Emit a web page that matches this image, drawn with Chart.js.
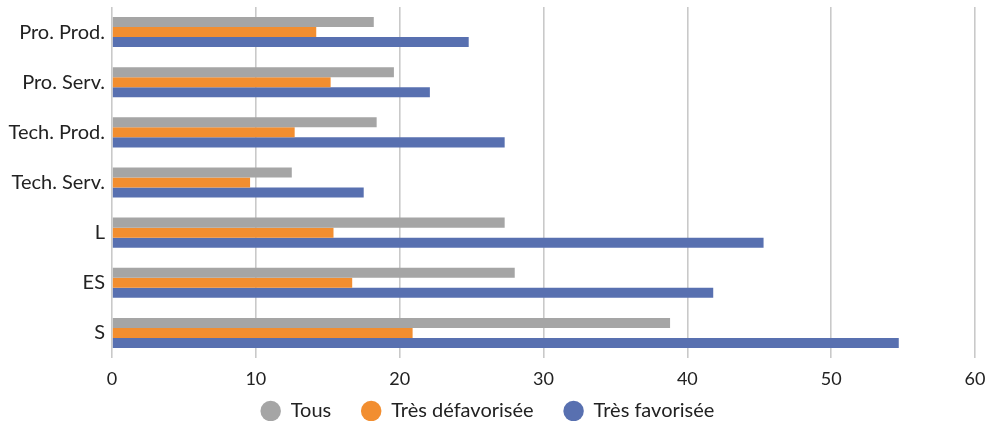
<!DOCTYPE html>
<html>
<head>
<meta charset="utf-8">
<script src="https://cdn.jsdelivr.net/npm/chart.js@4.4.0/dist/chart.umd.min.js"></script>
<style>
  html, body { margin: 0; padding: 0; background: #fff; }
  #wrap { width: 995px; height: 421px; position: relative; }
</style>
</head>
<body>
<div id="wrap"><canvas id="chart"></canvas></div>
<script>
// categories and values
var categories = ['Pro. Prod.', 'Pro. Serv.', 'Tech. Prod.', 'Tech. Serv.', 'L', 'ES', 'S'];
var tous = [18.2, 19.6, 18.4, 12.5, 27.3, 28.0, 38.8];
var tresDefavorisee = [14.2, 15.2, 12.7, 9.6, 15.4, 16.7, 20.9];
var tresFavorisee = [24.8, 22.1, 27.3, 17.5, 45.3, 41.8, 54.7];
var seriesNames = ['Tous', 'Très défavorisée', 'Très favorisée'];
var xTicks = [0, 10, 20, 30, 40, 50, 60];

var colors = ['#A5A5A5', '#F28E30', '#5870B0'];
var seriesData = [tous, tresDefavorisee, tresFavorisee];

var datasets = [];
for (var i = 0; i < seriesData.length; i++) {
    datasets.push({
        label: seriesNames[i],
        data: seriesData[i],
        backgroundColor: colors[i],
        borderWidth: 0,
        categoryPercentage: 0.6,
        barPercentage: 1.0
    });
}

Chart.defaults.font.family = 'Lato, "Noto Sans", sans-serif';
Chart.defaults.color = '#222';

new Chart(document.getElementById('chart'), {
    type: 'bar',
    data: { labels: categories, datasets: datasets },
    options: {
        indexAxis: 'y',
        responsive: true,
        maintainAspectRatio: false,
        animation: false,
        layout: { padding: { top: 7, right: 20, left: 0, bottom: 0 } },
        scales: {
            x: {
                min: 0,
                max: 60,
                afterBuildTicks: function (axis) {
                    axis.ticks = xTicks.map(function (v) { return { value: v }; });
                },
                afterFit: function (scale) {
                    // tick labels sit right above the legend, so let them overflow the axis box
                    scale.height = 13;
                    scale.paddingRight = 0;
                    scale.paddingLeft = 0;
                    scale._computeLabelArea = function () { return null; };
                },
                grid: { color: '#C9C9C9', lineWidth: 1.6, drawTicks: false },
                border: { display: false },
                ticks: { font: { size: 18 }, padding: 10, color: '#222' }
            },
            y: {
                afterFit: function (scale) {
                    scale.width = 112;
                    scale.paddingTop = 0;
                    scale.paddingBottom = 0;
                },
                grid: { display: false, drawTicks: false },
                border: { display: false },
                ticks: { font: { size: 20 }, padding: 7, color: '#222' }
            }
        },
        plugins: {
            legend: {
                position: 'bottom',
                maxHeight: 50,
                labels: {
                    usePointStyle: true,
                    pointStyle: 'circle',
                    boxHeight: 14.5,
                    padding: 30,
                    font: { size: 20 },
                    color: '#222'
                }
            },
            tooltip: { enabled: false }
        }
    }
});
</script>
</body>
</html>
